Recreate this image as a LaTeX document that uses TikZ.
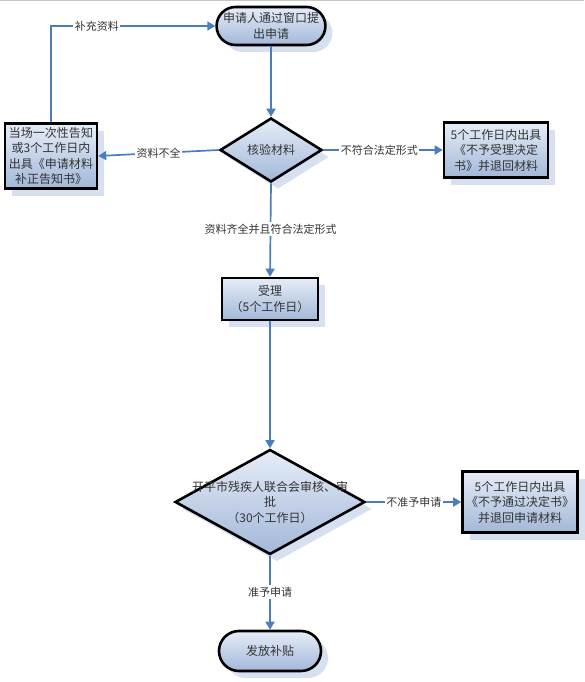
\documentclass[tikz,border=0pt]{standalone}
\usepackage{fontspec}
\newfontfamily\cjk{Noto Sans CJK SC}
\usetikzlibrary{shapes.geometric,shapes.misc,shadows,arrows.meta}
\definecolor{lineblue}{HTML}{4A7EBB}
\definecolor{fillA}{HTML}{E6EDF7}
\definecolor{fillB}{HTML}{A2B7D8}
\definecolor{shadowc}{HTML}{D6E0F0}
\definecolor{txt}{HTML}{333333}
\tikzset{
 box/.style={draw=black, line width=2.6pt, top color=fillA, bottom color=fillB,
   drop shadow={shadow xshift=7pt, shadow yshift=-7pt, fill=shadowc, opacity=1},
   font=\cjk\fontsize{12}{15.5}\selectfont, text=txt, align=center, inner sep=1pt},
 rectbox/.style={box, rectangle},
 termbox/.style={box, rounded rectangle},
 diabox/.style={box, diamond, inner sep=0pt},
 dtext/.style={font=\cjk\fontsize{12}{15.5}\selectfont, text=txt, align=center},
 conn/.style={draw=lineblue, line width=1.7pt, -{Triangle[length=8pt,width=9pt]}},
 lbl/.style={fill=white, text=txt, font=\cjk\fontsize{11}{12}\selectfont, inner sep=1.5pt},
}
\begin{document}
\begin{tikzpicture}[x=1pt,y=-1pt]
\useasboundingbox (0,0) rectangle (584,682);
\draw[gray!45, line width=1.2pt] (0,0.6) -- (584,0.6);

\node[termbox, minimum width=102pt, minimum height=38pt] (start) at (271,26) {申请人通过窗口提\\出申请};
\node[diabox, minimum width=102pt, minimum height=64pt,
      label={[dtext]center:核验材料}] (d1) at (271,150) {};
\node[rectbox, minimum width=92pt, minimum height=65pt] (left) at (51,156) {当场一次性告知\\或3个工作日内\\出具《申请材料\\补正告知书》};
\node[rectbox, minimum width=104pt, minimum height=55pt] (right1) at (496,150) {5个工作日内出具\\《不予受理决定\\书》并退回材料};
\node[rectbox, minimum width=96pt, minimum height=42pt] (accept) at (270,299) {受理\\（5个工作日）};
\node[diabox, minimum width=190pt, minimum height=105pt,
      label={[dtext]center:开平市残疾人联合会审核、审\\批\\（30个工作日）}] (d2) at (270,502) {};
\node[rectbox, minimum width=115pt, minimum height=61pt] (right2) at (520,502) {5个工作日内出具\\《不予通过决定书》\\并退回申请材料};
\node[termbox, minimum width=104pt, minimum height=40pt] (end) at (270,651) {发放补贴};

\draw[conn] (start.south) -- (d1.north);
\draw[conn] (d1.west) -- node[lbl]{资料不全} (left.east);
\draw[conn] (left.north) |- node[lbl, pos=0.64]{补充资料} (start.west);
\draw[conn] (d1.east) -- node[lbl, pos=0.47]{不符合法定形式} (right1.west);
\draw[conn] (d1.south) -- node[lbl, pos=0.49]{资料齐全并且符合法定形式} (accept.north);
\draw[conn] (accept.south) -- (d2.north);
\draw[conn] (d2.east) -- node[lbl, pos=0.5]{不准予申请} (right2.west);
\draw[conn] (d2.south) -- node[lbl, pos=0.49]{准予申请} (end.north);
\end{tikzpicture}
\end{document}
